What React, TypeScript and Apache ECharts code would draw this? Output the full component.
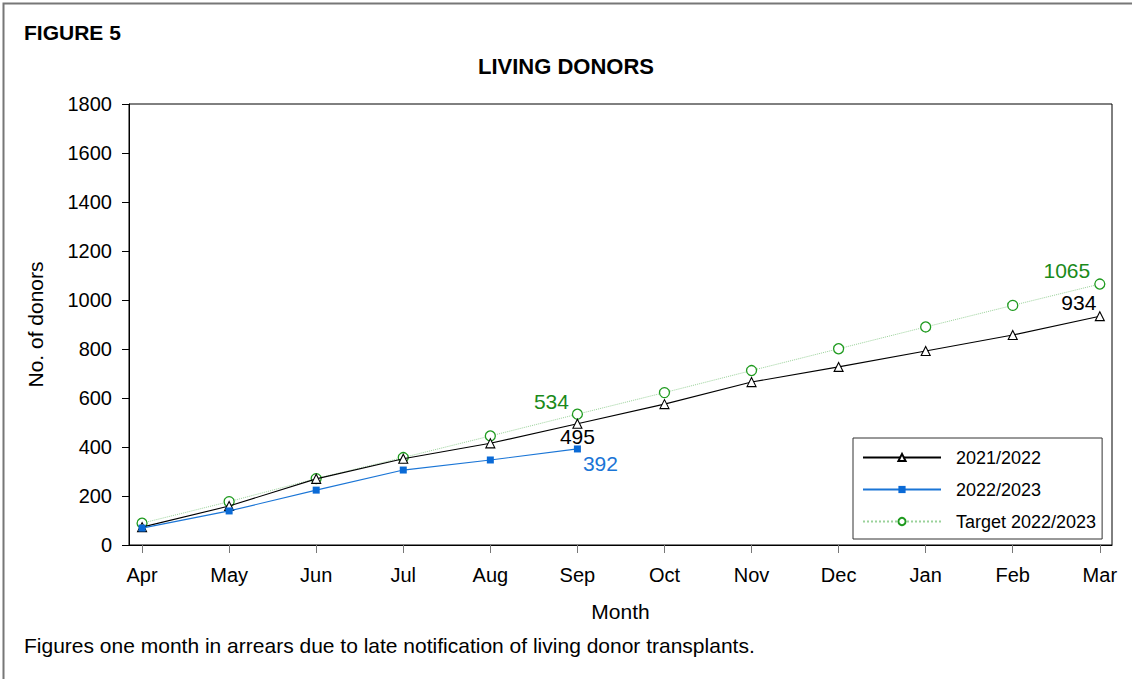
import React, { useEffect, useRef } from "react";
import * as echarts from "echarts";

const months = ["Apr", "May", "Jun", "Jul", "Aug", "Sep", "Oct", "Nov", "Dec", "Jan", "Feb", "Mar"];
const series2122 = [73, 159, 270, 352, 415, 495, 575, 665, 727, 792, 857, 934];
const series2223 = [69, 139, 224, 306, 347, 392];
const target2223 = [89, 177, 271, 357, 445, 534, 622, 712, 801, 890, 978, 1065];
const yTicks = [0, 200, 400, 600, 800, 1000, 1200, 1400, 1600, 1800];

const FONT = "'Liberation Sans', Arial, sans-serif";

type LabelSpec = { color: string; offset: [number, number] };

function withLabels(values: number[], labels: Record<number, LabelSpec>) {
  return values.map((v, i) => {
    const spec = labels[i];
    if (!spec) return [i, v];
    return {
      value: [i, v],
      label: {
        show: true,
        position: "inside",
        offset: spec.offset,
        color: spec.color,
        fontSize: 21,
        fontFamily: FONT,
        formatter: String(v),
      },
    };
  });
}

export default function App() {
  const ref = useRef<HTMLDivElement>(null);
  useEffect(() => {
    if (!ref.current) return;
    const chart = echarts.init(ref.current, null, { renderer: "svg" });
    const option: any = {
      animation: false,
      backgroundColor: "#ffffff",
      textStyle: { fontFamily: FONT },
      graphic: [
        {
          type: "rect",
          shape: { x: 3.5, y: 3.5, width: 1140, height: 700 },
          style: { fill: "none", stroke: "#777", lineWidth: 2 },
          silent: true,
        },
        {
          type: "text",
          left: 24,
          top: 22,
          style: { text: "FIGURE 5", font: `bold 21px ${FONT}`, fill: "#000" },
        },
        {
          type: "text",
          left: "center",
          top: 55,
          style: { text: "LIVING DONORS", font: `bold 22px ${FONT}`, fill: "#000" },
        },
        {
          type: "text",
          left: 24,
          top: 635,
          style: {
            text: "Figures one month in arrears due to late notification of living donor transplants.",
            font: `21px ${FONT}`,
            fill: "#000",
          },
        },
      ],
      grid: {
        left: 129,
        right: 20,
        top: 104,
        bottom: 134,
        show: true,
        borderColor: "#000",
        borderWidth: 1,
        backgroundColor: "transparent",
      },
      legend: {
        orient: "vertical",
        left: 853,
        top: 438,
        padding: [9, 6, 7, 9],
        borderColor: "#333",
        borderWidth: 1,
        borderRadius: 0,
        backgroundColor: "#fff",
        itemWidth: 78,
        itemHeight: 9,
        itemGap: 11,
        textStyle: {
          fontSize: 18,
          lineHeight: 21,
          color: "#000",
          fontFamily: FONT,
          padding: [0, 0, 0, 10],
        },
        data: ["2021/2022", "2022/2023", "Target 2022/2023"],
      },
      xAxis: {
        type: "value",
        min: -0.15,
        max: 11.14,
        splitLine: { show: false },
        axisLine: { onZero: false, lineStyle: { color: "#000" } },
        axisTick: { show: true, length: 8, customValues: months.map((_, i) => i), lineStyle: { color: "#777" } },
        axisLabel: {
          customValues: months.map((_, i) => i),
          formatter: (v: number) => months[Math.round(v)] ?? "",
          fontSize: 20,
          color: "#000",
          margin: 20,
          fontFamily: FONT,
        },
        name: "Month",
        nameLocation: "middle",
        nameGap: 56,
        nameTextStyle: { fontSize: 21, color: "#000", fontFamily: FONT },
      },
      yAxis: {
        type: "value",
        min: 0,
        max: 1800,
        interval: 200,
        splitLine: { show: false },
        axisLine: { show: true, onZero: false, lineStyle: { color: "#000" } },
        axisTick: { show: true, length: 7, lineStyle: { color: "#000" } },
        axisLabel: {
          fontSize: 20,
          color: "#000",
          margin: 17,
          fontFamily: FONT,
          formatter: (v: number) => (yTicks.includes(v) ? String(v) : ""),
        },
        name: "No. of donors",
        nameLocation: "middle",
        nameRotate: 90,
        nameGap: 83,
        nameTextStyle: { fontSize: 21, color: "#000", fontFamily: FONT },
      },
      series: [
        {
          name: "Target 2022/2023",
          type: "line",
          data: withLabels(target2223, {
            5: { color: "#1a8a1a", offset: [-26, -13] },
            11: { color: "#1a8a1a", offset: [-33, -14] },
          }),
          symbol: "circle",
          symbolSize: 10,
          lineStyle: { color: "#9ad29a", width: 1, type: "dotted" },
          itemStyle: { color: "#ffffff", borderColor: "#1e9a1e", borderWidth: 1.3 },
          z: 2,
        },
        {
          name: "2021/2022",
          type: "line",
          data: withLabels(series2122, {
            5: { color: "#000", offset: [0, 13] },
            11: { color: "#000", offset: [-21, -14] },
          }),
          symbol: "triangle",
          symbolSize: 9,
          lineStyle: { color: "#000", width: 1.1 },
          itemStyle: { color: "#ffffff", borderColor: "#000", borderWidth: 1.1 },
          z: 3,
        },
        {
          name: "2022/2023",
          type: "line",
          data: withLabels(series2223, {
            5: { color: "#1a75d6", offset: [23, 15] },
          }),
          symbol: "rect",
          symbolSize: 7,
          lineStyle: { color: "#1a75d6", width: 1.2 },
          itemStyle: { color: "#0a6ad6", borderColor: "#0a6ad6", borderWidth: 0 },
          z: 4,
        },
      ],
    };
    chart.setOption(option);
    return () => chart.dispose();
  }, []);
  return (
    <div
      ref={ref}
      style={{ position: "fixed", left: 0, top: 0, width: 1132, height: 679, background: "#fff" }}
    />
  );
}
